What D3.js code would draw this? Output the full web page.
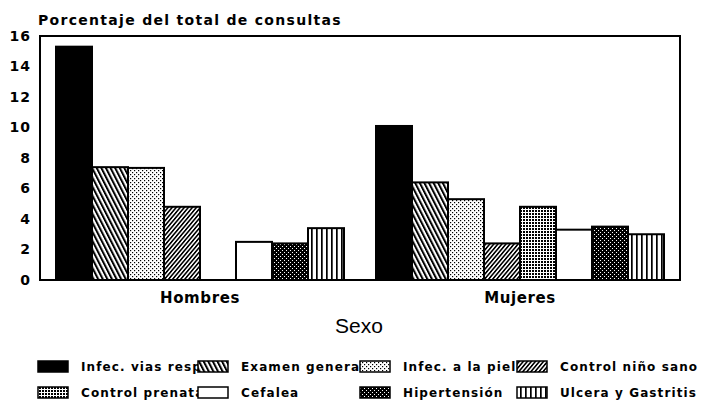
<!DOCTYPE html>
<html>
<head>
<meta charset="utf-8">
<script src="https://cdn.jsdelivr.net/npm/d3@7"></script>
<style>
    body { margin: 0; background: #fff; }
    svg { display: block; }
    .axis text { font-family: "DejaVu Sans", sans-serif; font-weight: bold; font-size: 14px; letter-spacing: 1px; fill: #000; }
    .label { font-family: "DejaVu Sans", sans-serif; font-weight: bold; fill: #000; }
</style>
</head>
<body>
<svg id="chart" width="711" height="406"></svg>
<script>
// data
var categorias = ["Hombres", "Mujeres"];
var series = ["Infec. vias resp.", "Examen general", "Infec. a la piel", "Control niño sano",
    "Control prenatal", "Cefalea", "Hipertensión", "Ulcera y Gastritis"];
var hombres = [15.3, 7.4, 7.35, 4.8, 0, 2.5, 2.4, 3.4];
var mujeres = [10.1, 6.4, 5.3, 2.4, 4.8, 3.3, 3.5, 3.0];
var yTicks = [0, 2, 4, 6, 8, 10, 12, 14, 16];

var valores = [hombres, mujeres];
var rellenos = ["solid", "back", "dots", "fwd", "grid", "none", "check", "vert"];

var svg = d3.select("#chart");
var width = 640,
    height = 244;
var g = svg.append("g").attr("transform", "translate(40,36)");

// patterns
var defs = svg.append("defs");

function stripes(id, spacing, lw, angle) {
    var p = defs.append("pattern")
        .attr("id", id)
        .attr("patternUnits", "userSpaceOnUse")
        .attr("width", spacing).attr("height", 10)
        .attr("patternTransform", "rotate(" + angle + ")");
    p.append("rect").attr("width", spacing).attr("height", 10).attr("fill", "#fff");
    p.append("rect").attr("width", lw).attr("height", 10).attr("fill", "#000");
}
stripes("p-back", 4.1, 2, -27);
stripes("p-fwd", 3.1, 1.6, 40);
stripes("p-vert", 5, 1.7, 0);

var pd = defs.append("pattern").attr("id", "p-dots").attr("patternUnits", "userSpaceOnUse")
    .attr("width", 4).attr("height", 4);
pd.append("rect").attr("width", 4).attr("height", 4).attr("fill", "#fff");
pd.append("rect").attr("x", 0).attr("y", 0).attr("width", 1.2).attr("height", 1.2).attr("fill", "#000");
pd.append("rect").attr("x", 2).attr("y", 2).attr("width", 1.2).attr("height", 1.2).attr("fill", "#000");

var pg = defs.append("pattern").attr("id", "p-grid").attr("patternUnits", "userSpaceOnUse")
    .attr("width", 3).attr("height", 3);
pg.append("rect").attr("width", 3).attr("height", 3).attr("fill", "#fff");
pg.append("rect").attr("x", 0).attr("y", 0).attr("width", 2).attr("height", 2).attr("fill", "#000");

var pc = defs.append("pattern").attr("id", "p-check").attr("patternUnits", "userSpaceOnUse")
    .attr("width", 4).attr("height", 4);
pc.append("rect").attr("width", 4).attr("height", 4).attr("fill", "#000");
pc.append("rect").attr("x", 0).attr("y", 0).attr("width", 1).attr("height", 1).attr("fill", "#fff");
pc.append("rect").attr("x", 2).attr("y", 2).attr("width", 1).attr("height", 1).attr("fill", "#fff");

function fillFor(i) {
    var r = rellenos[i];
    if (r === "solid") return "#000";
    if (r === "none") return "#fff";
    return "url(#p-" + r + ")";
}

// scales
var x0 = d3.scaleBand().domain(categorias).range([0, width]).paddingInner(0.1).paddingOuter(0.05);
var x1 = d3.scaleBand().domain(d3.range(series.length)).range([0, x0.bandwidth()]);
var y = d3.scaleLinear().domain([0, 16]).range([height, 0]);

// bars
var grupos = g.selectAll("g.grupo")
    .data(categorias)
    .enter().append("g")
    .attr("class", "grupo")
    .attr("transform", function (d) { return "translate(" + x0(d) + ",0)"; });

grupos.selectAll("rect")
    .data(function (d, i) {
        return valores[i].map(function (v, j) { return {serie: j, value: v}; })
            .filter(function (d) { return d.value > 0; });
    })
    .enter().append("rect")
    .attr("x", function (d) { return x1(d.serie); })
    .attr("y", function (d) { return y(d.value); })
    .attr("width", x1.bandwidth())
    .attr("height", function (d) { return height - y(d.value); })
    .attr("fill", function (d) { return fillFor(d.serie); })
    .attr("stroke", "#000")
    .attr("stroke-width", 2);

// frame
g.append("rect")
    .attr("width", width).attr("height", height)
    .attr("fill", "none").attr("stroke", "#000").attr("stroke-width", 2);

// Y axis
var yAxis = g.append("g")
    .attr("class", "axis")
    .call(d3.axisLeft(y).tickValues(yTicks).tickSize(0).tickPadding(9));
yAxis.select(".domain").remove();

// X labels
g.selectAll("text.cat")
    .data(categorias)
    .enter().append("text")
    .attr("class", "label cat")
    .attr("x", function (d) { return x0(d) + x0.bandwidth() / 2; })
    .attr("y", height + 23)
    .attr("text-anchor", "middle")
    .style("font-size", "15px")
    .style("letter-spacing", "0.6px")
    .text(function (d) { return d; });

svg.append("text")
    .attr("class", "label")
    .attr("x", 38).attr("y", 25)
    .style("font-size", "14px")
    .style("letter-spacing", "1.3px")
    .text("Porcentaje del total de consultas");

svg.append("text")
    .attr("x", 359).attr("y", 333)
    .attr("text-anchor", "middle")
    .style("font-family", "'Liberation Sans', Arial, sans-serif")
    .style("font-size", "21px")
    .text("Sexo");

// legend: text first, swatches on top (they clip the long names)
var legX = [38, 198, 360, 517];
var legY = [361, 387];
var items = series.map(function (s, i) { return {name: s, i: i, col: i % 4, row: Math.floor(i / 4)}; });

svg.selectAll("text.leg")
    .data(items)
    .enter().append("text")
    .attr("class", "label leg")
    .attr("x", function (d) { return legX[d.col] + 43; })
    .attr("y", function (d) { return legY[d.row] + 10; })
    .style("font-size", "12px")
    .style("letter-spacing", "1.1px")
    .text(function (d) { return d.name; });

svg.selectAll("rect.sw")
    .data(items)
    .enter().append("rect")
    .attr("class", "sw")
    .attr("x", function (d) { return legX[d.col]; })
    .attr("y", function (d) { return legY[d.row]; })
    .attr("width", 30).attr("height", 11)
    .attr("fill", function (d) { return fillFor(d.i); })
    .attr("stroke", "#000")
    .attr("stroke-width", 1.5);
</script>
</body>
</html>
